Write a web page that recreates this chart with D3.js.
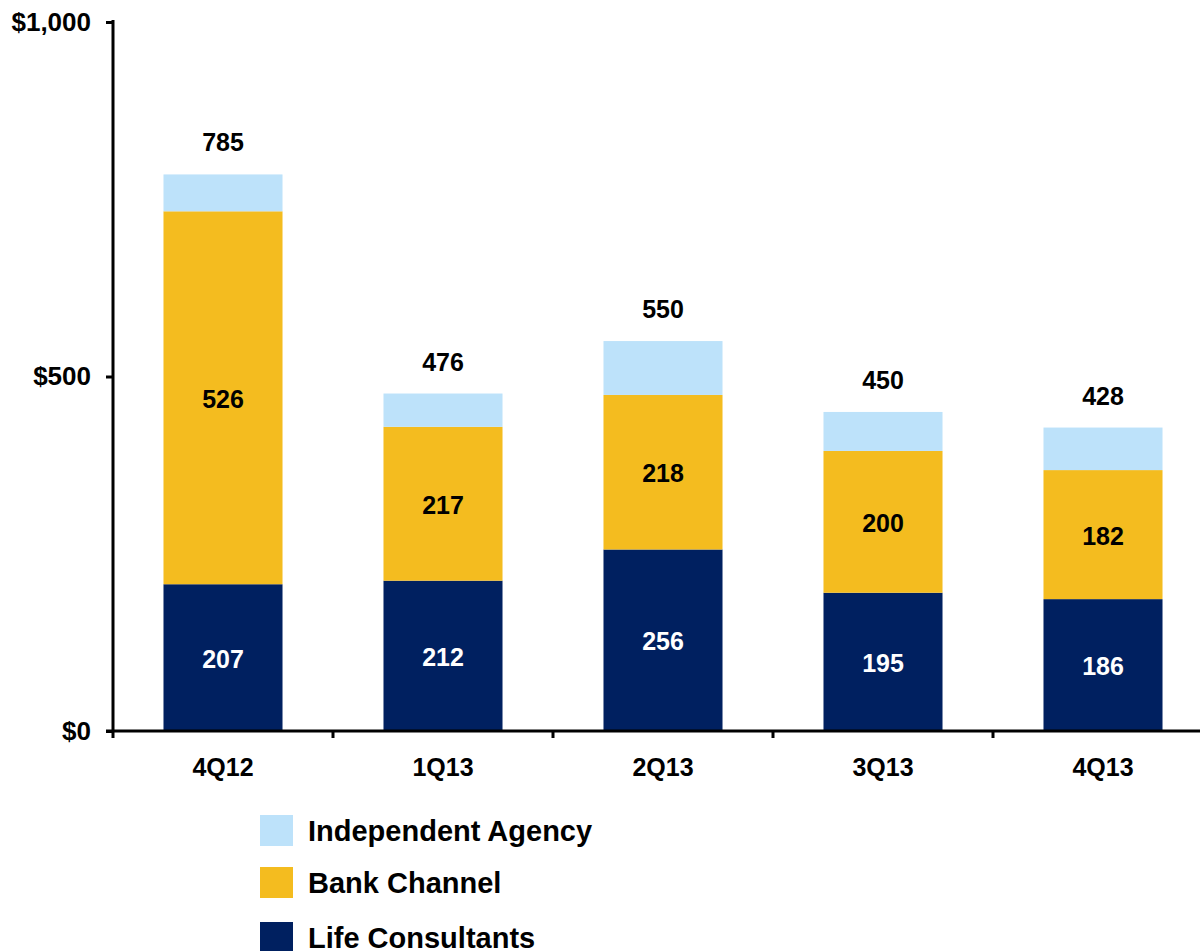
<!DOCTYPE html>
<html><head><meta charset="utf-8">
<script src="https://cdn.jsdelivr.net/npm/d3@7"></script>
<style>body{margin:0;background:#fff}svg{display:block;font-family:"Liberation Sans",Arial,sans-serif;font-weight:bold}</style>
</head><body><svg id="c" width="1200" height="951"></svg>
<script>
const categories = ["4Q12","1Q13","2Q13","3Q13","4Q13"];
const lifeConsultants = [207,212,256,195,186];
const bankChannel = [526,217,218,200,182];
const independentAgency = [52,47,76,55,60];
const totals = [785,476,550,450,428];
const yTicks = [0,500,1000];
const seriesNames = ["Life Consultants","Bank Channel","Independent Agency"];
const colors = {"Life Consultants":"#002060","Bank Channel":"#F4BC1F","Independent Agency":"#BDE2FA"};

const svg = d3.select("#c");
const x = d3.scaleBand().domain(categories).range([113,1213]).paddingInner(0.459).paddingOuter(0.2295);
const y = d3.scaleLinear().domain([0,1000]).range([731,22]);

const rows = categories.map((c,i)=>({cat:c,"Life Consultants":lifeConsultants[i],"Bank Channel":bankChannel[i],"Independent Agency":independentAgency[i],total:totals[i]}));
const stack = d3.stack().keys(seriesNames)(rows);

const g = svg.append("g");
stack.forEach(layer=>{
  g.selectAll(null).data(layer).enter().append("rect")
    .attr("x",d=>x(d.data.cat)).attr("width",x.bandwidth())
    .attr("y",d=>y(d[1])).attr("height",d=>y(d[0])-y(d[1]))
    .attr("fill",colors[layer.key]);
});
// segment labels
stack.slice(0,2).forEach(layer=>{
  g.selectAll(null).data(layer).enter().append("text")
    .attr("x",d=>x(d.data.cat)+x.bandwidth()/2)
    .attr("y",d=>(y(d[0])+y(d[1]))/2+1)
    .attr("text-anchor","middle").attr("dominant-baseline","central")
    .attr("font-size",25)
    .attr("fill",layer.key==="Life Consultants"?"#fff":"#000")
    .text(d=>d.data[layer.key]);
});
// totals
g.selectAll(null).data(rows).enter().append("text")
  .attr("x",d=>x(d.cat)+x.bandwidth()/2).attr("y",d=>y(d.total)-32)
  .attr("text-anchor","middle").attr("dominant-baseline","central")
  .attr("font-size",25).text(d=>d.total);

// y axis
const yAxis = svg.append("g").attr("transform","translate(113,0)")
  .call(d3.axisLeft(y).tickValues(yTicks).tickSize(7).tickPadding(15).tickFormat(d=>"$"+d3.format(",")(d)));
yAxis.select(".domain").attr("stroke","#000").attr("stroke-width",3).attr("d","M0,731V20");
yAxis.selectAll(".tick line").attr("stroke","#000").attr("stroke-width",3);
yAxis.selectAll(".tick text").attr("font-size",26).attr("fill","#000").attr("font-family","Liberation Sans, Arial").attr("font-weight","bold");

// x axis
const step = x.step();
const xAxis = svg.append("g").attr("transform","translate(0,731)");
xAxis.append("line").attr("x1",106).attr("x2",1200).attr("stroke","#000").attr("stroke-width",3);
xAxis.selectAll(null).data(categories).enter().append("line")
  .attr("x1",d=>x(d)-step*x.paddingInner()/2).attr("x2",d=>x(d)-step*x.paddingInner()/2)
  .attr("y1",0).attr("y2",7).attr("stroke","#000").attr("stroke-width",3);
xAxis.selectAll(null).data(categories).enter().append("text")
  .attr("x",d=>x(d)+x.bandwidth()/2).attr("y",36)
  .attr("text-anchor","middle").attr("dominant-baseline","central")
  .attr("font-size",25).text(d=>d);

// legend
const legendOrder = ["Independent Agency","Bank Channel","Life Consultants"];
const legendY = [815,867,922];
const lg = svg.append("g");
legendOrder.forEach((k,i)=>{
  lg.append("rect").attr("x",260).attr("y",legendY[i]).attr("width",33).attr("height",31).attr("fill",colors[k]);
  lg.append("text").attr("x",308).attr("y",legendY[i]+16).attr("dominant-baseline","central")
    .attr("font-size",29).text(k);
});
</script></body></html>
